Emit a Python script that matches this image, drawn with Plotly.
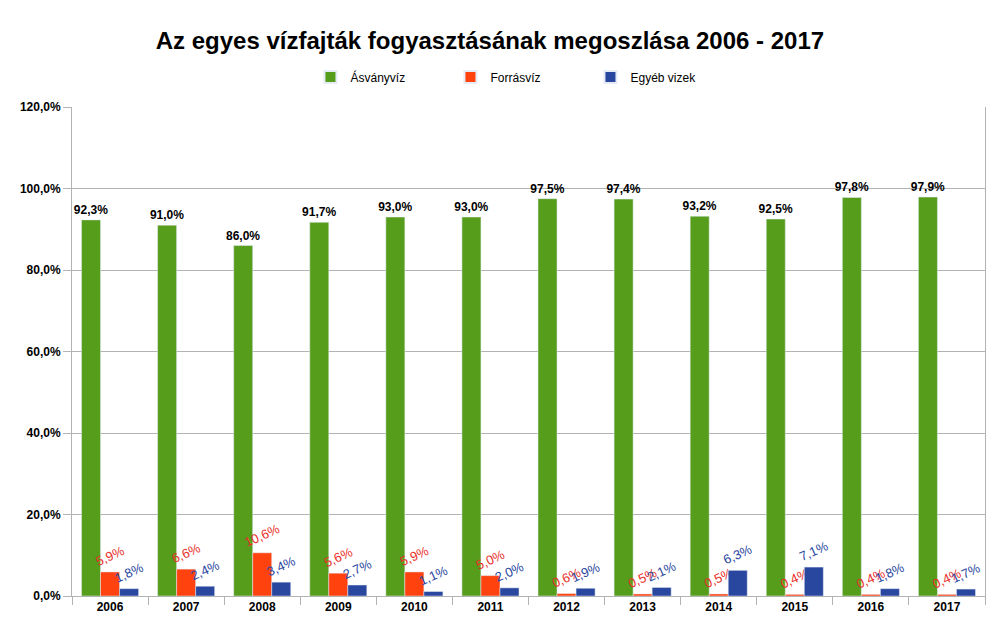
import plotly.graph_objects as go

years = ["2006", "2007", "2008", "2009", "2010", "2011", "2012", "2013", "2014", "2015", "2016", "2017"]
asvanyviz = [92.3, 91.0, 86.0, 91.7, 93.0, 93.0, 97.5, 97.4, 93.2, 92.5, 97.8, 97.9]
forrasviz = [5.9, 6.6, 10.6, 5.6, 5.9, 5.0, 0.6, 0.5, 0.5, 0.4, 0.4, 0.4]
egyeb = [1.8, 2.4, 3.4, 2.7, 1.1, 2.0, 1.9, 2.1, 6.3, 7.1, 1.8, 1.7]

FONT = "Liberation Sans, Arial, sans-serif"

fig = go.Figure()
fig.add_trace(go.Bar(
    x=years, y=asvanyviz, name="Ásványvíz", marker_color="#579d1c",
    texttemplate="<b>%{y:.1f}%</b>", textposition="outside", textangle=0,
    constraintext="none",
    textfont=dict(color="black", size=12, family=FONT), cliponaxis=False,
))
fig.add_trace(go.Bar(
    x=years, y=forrasviz, name="Forrásvíz", marker_color="#ff420e",
    texttemplate="%{y:.1f}%", textposition="outside", textangle=-24,
    constraintext="none",
    textfont=dict(color="#e8302a", size=13, family=FONT), cliponaxis=False,
))
fig.add_trace(go.Bar(
    x=years, y=egyeb, name="Egyéb vizek", marker_color="#2a47a0",
    texttemplate="%{y:.1f}%", textposition="outside", textangle=-24,
    constraintext="none",
    textfont=dict(color="#2a47a0", size=13, family=FONT), cliponaxis=False,
))

fig.update_layout(
    width=997, height=633,
    separators=", ",
    paper_bgcolor="white", plot_bgcolor="white",
    font=dict(family=FONT, size=12, color="black"),
    title=dict(text="<b>Az egyes vízfajták fogyasztásának megoszlása 2006 - 2017</b>",
               x=0.4834, xanchor="center", y=0.949, yanchor="middle",
               font=dict(size=24, family=FONT, color="black")),
    margin=dict(l=64, r=20, t=99, b=45, autoexpand=False),
    barmode="group", bargap=0.25, bargroupgap=0,
    showlegend=True,
    legend=dict(orientation="h", xref="container", x=0.514, xanchor="center",
                yref="container", y=0.891, yanchor="middle",
                font=dict(size=12, family=FONT, color="black"),
                entrywidth=95, entrywidthmode="pixels",
                itemsizing="constant", traceorder="normal"),
)
fig.update_yaxes(range=[0, 120], dtick=20, tickformat=".1f", ticksuffix="%</b>", tickprefix="<b>",
                 showgrid=True, gridcolor="#b3b3b3", gridwidth=1,
                 showline=True, linecolor="#b3b3b3", mirror=True,
                 ticks="outside", ticklen=8, tickcolor="#b3b3b3",
                 tickfont=dict(size=12, family=FONT, color="black"),
                 zeroline=False, automargin=False)
fig.update_xaxes(showline=True, linecolor="#b3b3b3", ticks="outside", tickson="boundaries",
                 ticklen=8, tickcolor="#b3b3b3",
                 tickfont=dict(size=12, family=FONT, color="black"),
                 tickprefix="<b>", ticksuffix="</b>", automargin=False)

fig.write_html("out.html")
